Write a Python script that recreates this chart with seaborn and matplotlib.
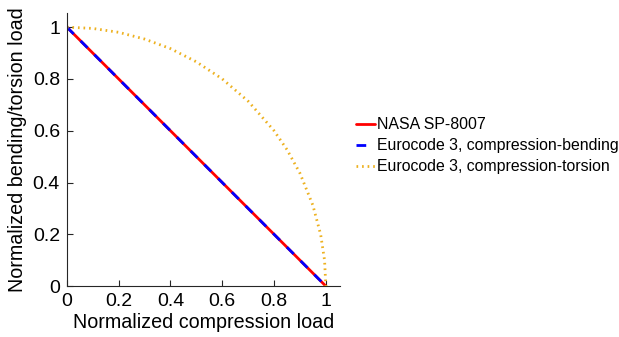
import matplotlib
matplotlib.use("Agg")
import matplotlib.pyplot as plt
import seaborn as sns
import pandas as pd

sns.set_theme(style="white")
plt.rcParams['font.family'] = ['Liberation Sans', 'DejaVu Sans']

# Data
nasa_x = [0.0, 1.0]
nasa_y = [1.0, 0.0]
bend_x = [0.0, 1.0]
bend_y = [1.0, 0.0]
tors_x = [0.0, 0.1, 0.2, 0.3, 0.4, 0.5, 0.6, 0.7, 0.8, 0.85, 0.9, 0.95, 0.98, 0.995, 1.0]
tors_y = [1.0, 0.995, 0.98, 0.954, 0.917, 0.866, 0.80, 0.714, 0.60, 0.527, 0.436, 0.312, 0.199, 0.10, 0.0]
labels = ["NASA SP-8007", "Eurocode 3, compression-bending", "Eurocode 3, compression-torsion"]
ticks = [0, 0.2, 0.4, 0.6, 0.8, 1]
tick_labels = ["0", "0.2", "0.4", "0.6", "0.8", "1"]

fig = plt.figure(figsize=(6.19, 3.37), dpi=100)
ax = fig.add_axes([0.108, 0.151, 0.441, 0.81])

sns.lineplot(x=nasa_x, y=nasa_y, ax=ax, color=(1, 0, 0), lw=2, label=labels[0], sort=False)
sns.lineplot(x=bend_x, y=bend_y, ax=ax, color=(0, 0, 1), lw=2, linestyle=(0, (3.5, 3.5)), label=labels[1], sort=False)
sns.lineplot(x=tors_x, y=tors_y, ax=ax, color="#EDB120", lw=2, linestyle=(0, (0.6, 1.4)), label=labels[2], sort=False)

ax.set_xlim(0, 1.054)
ax.set_ylim(0, 1.054)
ax.set_xticks(ticks)
ax.set_xticklabels(tick_labels)
ax.set_yticks(ticks)
ax.set_yticklabels(tick_labels)
ax.tick_params(direction="in", length=4, width=0.8, colors="#262626", labelsize=14, labelcolor="black", pad=5,
               bottom=True, left=True)
for s in ["top", "right"]:
    ax.spines[s].set_visible(False)
for s in ["left", "bottom"]:
    ax.spines[s].set_color("#262626")
    ax.spines[s].set_linewidth(0.8)
ax.set_xlabel("Normalized compression load", fontsize=14.2, labelpad=2, color="black")
ax.set_ylabel("Normalized bending/torsion load", fontsize=14.2, labelpad=4, color="black")

leg = ax.legend(loc="center left", bbox_to_anchor=(0.565, 0.568), bbox_transform=fig.transFigure,
                frameon=False, fontsize=11.4, handlelength=1.2, handletextpad=0.1, labelspacing=0.38,
                borderaxespad=0, labelcolor="black")

fig.savefig("out.png", dpi=100)
